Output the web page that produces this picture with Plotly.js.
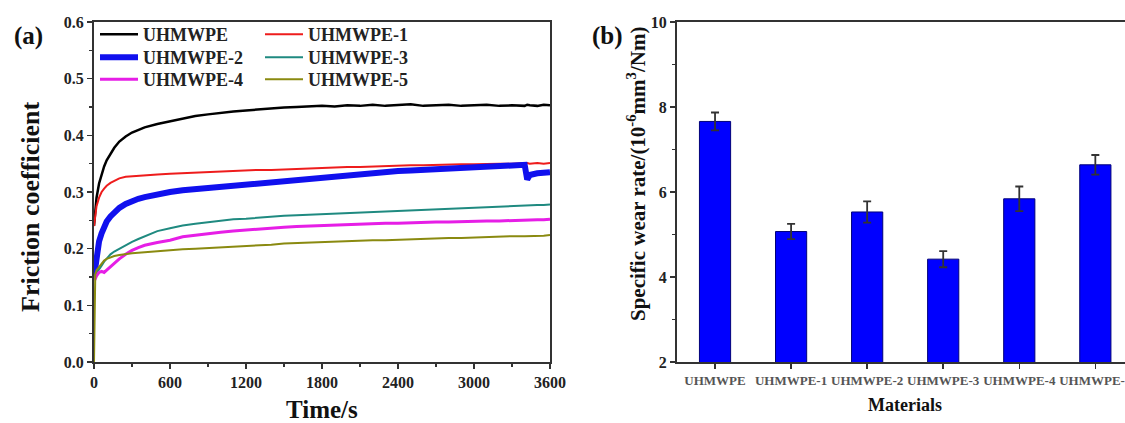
<!DOCTYPE html>
<html>
<head>
<meta charset="utf-8">
<script src="https://cdn.plot.ly/plotly-3.0.1.min.js"></script>
<style>html,body{margin:0;padding:0;background:#fff;}#chart{width:1125px;height:423px;}</style>
</head>
<body>
<div id="chart"></div>
<script>
// ---- Data ----
const timeS = [0,10,20,40,60,80,100,130,160,200,250,300,350,400,
  500,600,700,800,900,1000,1100,1200,1300,1400,1500,1600,1700,1800,1900,2000,
  2100,2200,2300,2400,2500,2600,2700,2800,2900,3000,3100,3200,3300,3400,
  3420,3440,3500,3550,3600];

const fcUHMWPE = [0.24,0.265,0.29,0.315,0.332,0.345,0.356,0.368,0.378,0.389,0.398,0.405,0.41,0.414,
  0.42,0.425,0.43,0.434,0.437,0.44,0.442,0.444,0.446,0.447,0.449,0.45,0.451,0.452,0.451,0.453,
  0.452,0.454,0.452,0.453,0.455,0.452,0.453,0.454,0.452,0.453,0.454,0.452,0.453,0.452,
  0.454,0.453,0.452,0.454,0.453];
const fcUHMWPE1 = [0.24,0.26,0.275,0.29,0.3,0.306,0.311,0.316,0.32,0.324,0.327,0.328,0.329,0.33,
  0.331,0.332,0.333,0.335,0.336,0.337,0.337,0.338,0.339,0.339,0.34,0.341,0.342,0.342,0.343,0.344,
  0.344,0.345,0.345,0.346,0.347,0.347,0.348,0.348,0.349,0.349,0.35,0.35,0.35,0.351,
  0.351,0.35,0.351,0.35,0.351];
const fcUHMWPE2 = [0.15,0.17,0.19,0.213,0.227,0.239,0.248,0.257,0.264,0.272,0.279,0.284,0.288,0.291,
  0.296,0.3,0.303,0.305,0.307,0.309,0.312,0.314,0.316,0.318,0.321,0.323,0.325,0.326,0.328,0.331,
  0.332,0.334,0.336,0.337,0.338,0.339,0.34,0.341,0.342,0.343,0.344,0.345,0.346,0.348,
  0.322,0.33,0.333,0.334,0.335];
const fcUHMWPE3 = [0.15,0.153,0.157,0.163,0.17,0.177,0.183,0.19,0.195,0.2,0.206,0.212,0.217,0.222,
  0.231,0.236,0.241,0.244,0.247,0.25,0.252,0.253,0.255,0.256,0.258,0.259,0.26,0.261,0.262,0.263,
  0.264,0.265,0.266,0.267,0.268,0.269,0.27,0.271,0.272,0.273,0.274,0.275,0.275,0.276,
  0.276,0.277,0.277,0.277,0.278];
const fcUHMWPE4 = [0.15,0.147,0.152,0.158,0.16,0.158,0.162,0.168,0.174,0.182,0.19,0.197,0.202,0.206,
  0.211,0.215,0.221,0.224,0.227,0.229,0.231,0.233,0.234,0.236,0.238,0.239,0.24,0.241,0.242,0.243,
  0.243,0.244,0.245,0.245,0.246,0.246,0.247,0.247,0.248,0.248,0.249,0.249,0.25,0.25,
  0.25,0.251,0.251,0.251,0.252];
const fcUHMWPE5 = [0.0,0.155,0.162,0.168,0.175,0.179,0.182,0.185,0.187,0.189,0.191,0.192,0.193,0.194,
  0.196,0.197,0.199,0.2,0.201,0.203,0.204,0.205,0.206,0.207,0.209,0.21,0.211,0.212,0.212,0.213,
  0.214,0.215,0.215,0.216,0.217,0.217,0.218,0.219,0.219,0.22,0.221,0.221,0.222,0.222,
  0.222,0.223,0.223,0.223,0.224];

const materials = ["UHMWPE","UHMWPE-1","UHMWPE-2","UHMWPE-3","UHMWPE-4","UHMWPE-5"];
const wearRate  = [7.66, 5.07, 5.53, 4.42, 5.84, 6.64];
const wearErr   = [0.21, 0.18, 0.25, 0.19, 0.29, 0.23];

// ---- Styling ----
const W = 1125, H = 423;
const px = x => x / W;
const py = y => 1 - y / H;
const SERIF = "Liberation Serif, Times New Roman, serif";
const AX = "#333333";

// legend slot: [left px, row-center px]
const lineSpecs = [
  {name:"UHMWPE",   y:fcUHMWPE,  color:"#000000", width:2.5, legend:"legend",  slot:[95,35]},
  {name:"UHMWPE-1", y:fcUHMWPE1, color:"#ee1c1c", width:2,   legend:"legend2", slot:[260,35]},
  {name:"UHMWPE-2", y:fcUHMWPE2, color:"#1010ee", width:6,   legend:"legend3", slot:[95,58]},
  {name:"UHMWPE-3", y:fcUHMWPE3, color:"#1f8a80", width:2,   legend:"legend4", slot:[260,58]},
  {name:"UHMWPE-4", y:fcUHMWPE4, color:"#e61ee6", width:3,   legend:"legend5", slot:[95,80]},
  {name:"UHMWPE-5", y:fcUHMWPE5, color:"#8a8a10", width:2,   legend:"legend6", slot:[260,80]}
];

const traces = lineSpecs.map(s => ({
  type:"scatter", mode:"lines", x:timeS, y:s.y, name:s.name,
  line:{color:s.color, width:s.width}, legend:s.legend, xaxis:"x", yaxis:"y"
}));

traces.push({
  type:"bar", x:materials, y:wearRate, xaxis:"x2", yaxis:"y2", width:0.41,
  marker:{color:"#0000ff", line:{color:"#00007a", width:1}},
  error_y:{type:"data", array:wearErr, visible:true, color:"#333333", thickness:1.8, width:4},
  showlegend:false
});

const tickFont = {family:SERIF, size:16, color:"#222", weight:"bold"};
const axisCommon = {
  showline:true, linecolor:AX, linewidth:2, showgrid:false, zeroline:false,
  ticks:"outside", ticklen:5, tickwidth:1.5, tickcolor:AX, tickfont:tickFont
};
const legendFont = {family:SERIF, size:18, color:"#222", weight:"bold"};

const layout = {
  width:W, height:H, margin:{l:0,r:0,t:0,b:0},
  paper_bgcolor:"#ffffff", plot_bgcolor:"#ffffff",
  xaxis: Object.assign({}, axisCommon, {
    domain:[px(94), px(550)], range:[0,3600], tick0:0, dtick:600, mirror:true, anchor:"y",
    minor:{ticks:"outside", dtick:300, ticklen:3, tickwidth:1.5, tickcolor:AX}
  }),
  yaxis: Object.assign({}, axisCommon, {
    domain:[py(362), py(22)], range:[0,0.6], tick0:0, dtick:0.1, tickformat:".1f", mirror:true, anchor:"x",
    minor:{ticks:"outside", dtick:0.05, ticklen:3, tickwidth:1.5, tickcolor:AX}
  }),
  xaxis2: Object.assign({}, axisCommon, {
    domain:[px(677), 1], range:[-0.5, 5.39], anchor:"y2", mirror:true, type:"category",
    tickfont:{family:SERIF, size:13, color:"#555", weight:"bold"}
  }),
  yaxis2: Object.assign({}, axisCommon, {
    domain:[py(362), py(22)], range:[2,10], tick0:2, dtick:2, anchor:"x2",
    minor:{ticks:"outside", dtick:1, ticklen:3, tickwidth:1.5, tickcolor:AX}
  }),
  showlegend:true,
  annotations:[
    {text:"(a)", x:px(28), y:py(36), xref:"paper", yref:"paper", showarrow:false,
      xanchor:"center", yanchor:"middle", font:{family:SERIF, size:25, color:"#111", weight:"bold"}},
    {text:"(b)", x:px(607), y:py(36), xref:"paper", yref:"paper", showarrow:false,
      xanchor:"center", yanchor:"middle", font:{family:SERIF, size:25, color:"#111", weight:"bold"}},
    {text:"Friction coefficient", x:px(31), y:py(207), xref:"paper", yref:"paper", showarrow:false,
      textangle:-90, xanchor:"center", yanchor:"middle", font:{family:SERIF, size:26, color:"#111", weight:"bold"}},
    {text:"Time/s", x:px(322), y:py(409), xref:"paper", yref:"paper", showarrow:false,
      xanchor:"center", yanchor:"middle", font:{family:SERIF, size:25, color:"#111", weight:"bold"}},
    {text:"Specific wear rate/(10<sup>-6</sup>mm<sup>3</sup>/Nm)", x:px(637), y:py(174), xref:"paper", yref:"paper", showarrow:false,
      textangle:-90, xanchor:"center", yanchor:"middle", font:{family:SERIF, size:21, color:"#111", weight:"bold"}},
    {text:"Materials", x:px(905), y:py(405), xref:"paper", yref:"paper", showarrow:false,
      xanchor:"center", yanchor:"middle", font:{family:SERIF, size:18, color:"#111", weight:"bold"}}
  ]
};

lineSpecs.forEach(s => {
  layout[s.legend] = {
    x:px(s.slot[0]), y:py(s.slot[1] - 19), xanchor:"left", yanchor:"top",
    bgcolor:"rgba(0,0,0,0)", font:legendFont, tracegroupgap:0, itemwidth:38
  };
});

Plotly.newPlot("chart", traces, layout, {displayModeBar:false, staticPlot:true});
</script>
</body>
</html>
